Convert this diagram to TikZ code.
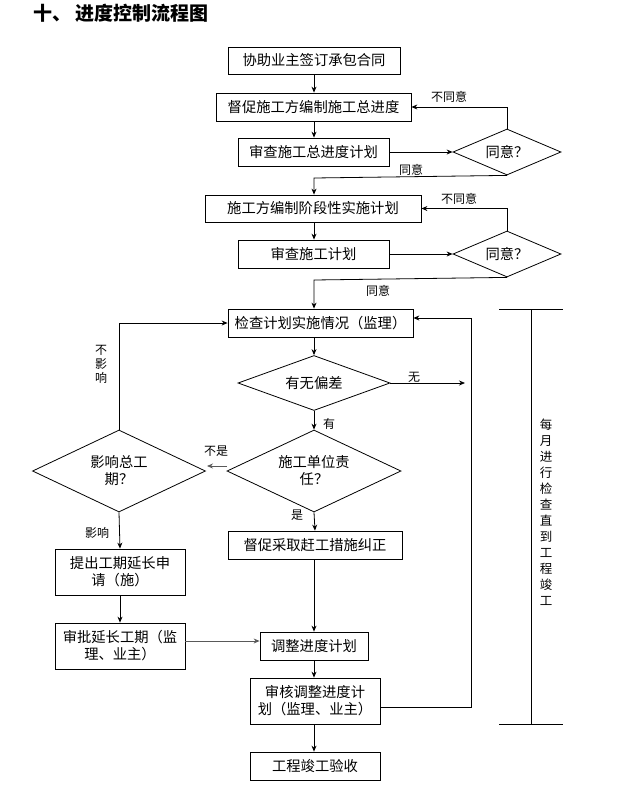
\documentclass[tikz,border=0pt]{standalone}
\usepackage{fontspec}
\setmainfont{Noto Sans CJK SC}
\usetikzlibrary{arrows.meta,shapes.geometric}
\begin{document}
\begin{tikzpicture}[x=1pt,y=-1pt,
 box/.style={draw,line width=0.8pt,inner sep=0pt,font=\fontsize{14.3}{17}\selectfont,align=center},
 dia/.style={draw,line width=0.8pt,diamond,aspect=2,inner sep=0pt,font=\fontsize{14.3}{17}\selectfont,align=center},
 lab/.style={font=\fontsize{12}{14}\selectfont,inner sep=0pt},
 ar/.style={-{Stealth[length=6pt,width=5pt]},line width=0.8pt},
 ln/.style={line width=0.8pt}]
\useasboundingbox (0,0) rectangle (620,796);
\node[anchor=west,font=\fontsize{19}{22}\selectfont\bfseries] (title) at (30,13) {十、\ 进度控制流程图};
\newcommand{\bx}[6]{\node[box,minimum width=#4-#2,minimum height=#5-#3] (#1) at ({(#2+#4)/2},{(#3+#5)/2}) {#6};}
\bx{b1}{228}{47}{400}{74}{协助业主签订承包合同}
\bx{b2}{216}{93}{411}{121}{督促施工方编制施工总进度}
\bx{b3}{238}{138}{389}{166}{审查施工总进度计划}
\node[dia,minimum width=108,minimum height=46] (d1) at (507,152) {同意？};
\bx{b4}{205}{195}{421}{222}{施工方编制阶段性实施计划}
\bx{b5}{238}{240}{389}{268}{审查施工计划}
\node[dia,minimum width=108,minimum height=46] (d2) at (507,254) {同意？};
\bx{b6}{228}{309}{413}{337}{检查计划实施情况（监理）}
\node[dia,minimum width=152,minimum height=55] (d3) at (314,383) {有无偏差};
\node[dia,minimum width=174,minimum height=82] (d4) at (314,471) {施工单位责\\任？};
\node[dia,minimum width=173,minimum height=82] (d5) at (119,471) {影响总工\\期？};
\bx{b7}{55}{549}{185}{595}{提出工期延长申\\请（施）}
\bx{b8}{55}{623}{185}{669}{审批延长工期（监\\理、业主）}
\bx{b9}{228}{531}{402}{559}{督促采取赶工措施纠正}
\bx{b10}{260}{632}{368}{660}{调整进度计划}
\bx{b11}{250}{678}{380}{724}{审核调整进度计\\划（监理、业主）}
\bx{b12}{250}{752}{380}{780}{工程竣工验收}
\draw[ar] (b1.south -| 314,0) -- (b2.north -| 314,0);
\draw[ar] (b2.south -| 314,0) -- (b3.north -| 314,0);
\draw[ar] (b3.east) -- (d1.west);
\draw[ar] (d1.north) |- (b2.east);
\node[lab] (l1) at (449,97) {不同意};
\draw[ar] (d1.south) -- (314,178) -- (b4.north -| 314,0);
\node[lab] (l2) at (411,170) {同意};
\draw[ar] (b4.south -| 314,0) -- (b5.north -| 314,0);
\draw[ar] (b5.east) -- (d2.west);
\draw[ar] (d2.north) |- (b4.east);
\node[lab] (l3) at (459,199) {不同意};
\draw[ar] (d2.south) -- (314,280) -- (b6.north -| 314,0);
\node[lab] (l4) at (378,291) {同意};
\draw[ar] (b6.south -| 314,0) -- (d3.north);
\coordinate (wu) at (465,383);
\draw[ar] (d3.east) -- (wu);
\node[lab] (l5) at (414,377) {无};
\draw[ar] (d3.south) -- (d4.north);
\node[lab] (l6) at (329,424) {有};
\draw[ar,gray!70!black] (227,466) -- (207,466);
\node[lab] (l7) at (216,451) {不是};
\draw[ar] (d5.north) |- (b6.west);
\node[lab,align=center] (l8) at (101,364) {不\\影\\响};
\draw[ar] (d5.south) -- (b7.north);
\node[lab] (l9) at (97,533) {影响};
\draw[ar] (d4.south) -- (b9.north);
\node[lab] (l10) at (297,515) {是};
\draw[ar] (b7.south) -- (b8.north);
\draw[ar,gray!70!black] (b8.east |- 0,641) -- (b10.west |- 0,641);
\draw[ar] (b9.south -| 314,0) -- (b10.north -| 314,0);
\draw[ar] (b10.south -| 314,0) -- (b11.north -| 314,0);
\draw[ar] (b11.south -| 314,0) -- (b12.north -| 314,0);
\draw[ar] (b11.east |- 0,707) -- (471,707) -- (471,318) -- (b6.east |- 0,318);
\draw[ln] (531,309) -- (531,724);
\draw[ln] (499,309) -- (563,309);
\draw[ln] (499,724) -- (563,724);
\node[lab,align=center,font=\fontsize{12.5}{16}\selectfont] (vt) at (546,512) {每\\月\\进\\行\\检\\查\\直\\到\\工\\程\\竣\\工};
\end{tikzpicture}
\end{document}
